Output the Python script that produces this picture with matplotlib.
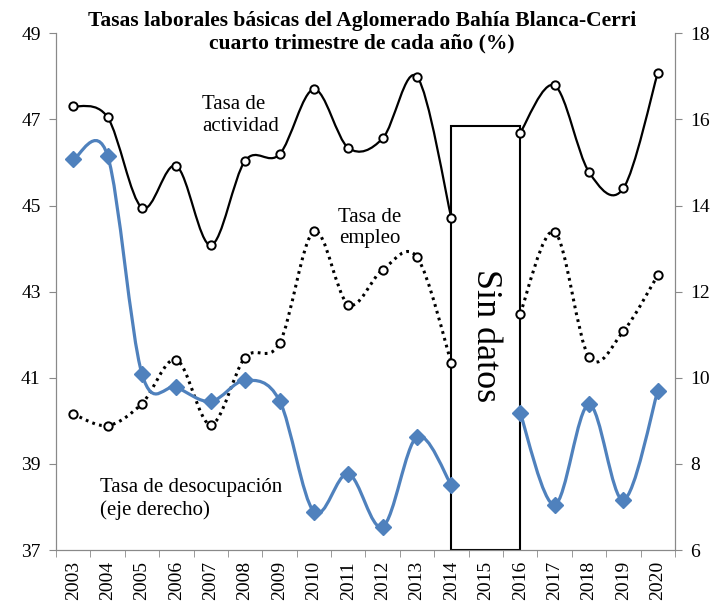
import numpy as np
import matplotlib
matplotlib.use('Agg')
import matplotlib.pyplot as plt
from matplotlib.path import Path
from matplotlib.patches import PathPatch, Rectangle

plt.rcParams['font.family'] = ['Liberation Serif', 'DejaVu Serif']

years = ['2003', '2004', '2005', '2006', '2007', '2008', '2009', '2010', '2011',
         '2012', '2013', '2014', '2015', '2016', '2017', '2018', '2019', '2020']

# 2015 sin datos
actividad = [47.31, 47.05, 44.95, 45.92, 44.08, 46.04, 46.19, 47.70, 46.34,
             46.56, 47.99, 44.70, np.nan, 46.69, 47.79, 45.78, 45.40, 48.08]
empleo = [40.16, 39.89, 40.40, 41.42, 39.91, 41.47, 41.80, 44.40, 42.70,
          43.51, 43.80, 41.34, np.nan, 42.49, 44.39, 41.48, 42.08, 43.38]
desocupacion = [15.07, 15.16, 10.09, 9.78, 9.45, 9.94, 9.47, 6.89, 7.77,
                6.54, 8.63, 7.50, np.nan, 9.18, 7.05, 9.38, 7.16, 9.69]

BLUE = '#4F81BD'
GRAY = '#898989'


def smooth_patch(xs, ys, **kw):
    # curva suavizada tipo Excel (bezier por tramos)
    verts, codes = [], []
    segs = []
    cur = []
    for x, y in zip(xs, ys):
        if np.isnan(y):
            if cur:
                segs.append(cur)
            cur = []
        else:
            cur.append((x, y))
    if cur:
        segs.append(cur)
    for seg in segs:
        p = np.array(seg, dtype=float)
        n = len(p)
        verts.append(p[0]); codes.append(Path.MOVETO)
        for i in range(n - 1):
            p0 = p[i - 1] if i > 0 else p[i]
            p1 = p[i]
            p2 = p[i + 1]
            p3 = p[i + 2] if i + 2 < n else p[i + 1]
            c1 = p1 + (p2 - p0) / 6
            c2 = p2 - (p3 - p1) / 6
            verts += [c1, c2, p2]
            codes += [Path.CURVE4] * 3
    return PathPatch(Path(verts, codes), fill=False, **kw)


x = np.arange(len(years))

fig = plt.figure(figsize=(7.18, 6.05), dpi=100)
ax = fig.add_axes([0.078, 0.0909, 0.862, 0.854])
ax2 = ax.twinx()

ax.add_patch(smooth_patch(x, actividad, edgecolor='black', linewidth=1.6, zorder=3))
ax.plot(x, actividad, 'o', ls='none', ms=6, mfc='white', mec='black', mew=1.4, zorder=4)

ax.add_patch(smooth_patch(x, empleo, edgecolor='black', linewidth=2.2,
                          linestyle=(0, (0.9, 1.4)), zorder=3))
ax.plot(x, empleo, 'o', ls='none', ms=6, mfc='white', mec='black', mew=1.4, zorder=4)

ax2.add_patch(smooth_patch(x, desocupacion, edgecolor=BLUE, linewidth=2.3, zorder=3))
ax2.plot(x, desocupacion, 'D', ls='none', ms=8.5, color=BLUE, zorder=4)

# recuadro sin datos
ax.add_patch(Rectangle((11, 37), 2, 46.85 - 37, fill=False, edgecolor='black',
                       linewidth=1.5, zorder=2))
ax.text(12, 41.97, 'Sin datos', rotation=-90, ha='center', va='center', fontsize=26)

ax.set_xlim(-0.5, 17.5)
ax.set_ylim(37, 49)
ax.set_yticks([37, 39, 41, 43, 45, 47, 49])
ax2.set_ylim(6, 18)
ax2.set_yticks([6, 8, 10, 12, 14, 16, 18])

ax.set_xticks(x)
ax.set_xticklabels(years, rotation=90, fontsize=14)
ax.set_xticks(np.arange(-0.5, 18, 1), minor=True)
ax.tick_params(axis='x', which='major', length=0, pad=8)
ax.tick_params(axis='x', which='minor', length=5, color=GRAY, direction='out')
ax.tick_params(axis='y', length=5, color=GRAY, labelsize=14, pad=6)
ax2.tick_params(axis='y', length=5, color=GRAY, labelsize=14, pad=6)

for a in (ax, ax2):
    a.spines['top'].set_visible(False)
    for s in ('left', 'right', 'bottom'):
        a.spines[s].set_color(GRAY)

ax.text(3.74, 47.1, 'Tasa de\nactividad', ha='left', va='center', fontsize=15,
        linespacing=1.2)
ax.text(8.63, 44.48, 'Tasa de\nempleo', ha='center', va='center', fontsize=15,
        linespacing=1.15)
ax.text(0.78, 38.18, 'Tasa de desocupación\n(eje derecho)', ha='left', va='center',
        fontsize=15, linespacing=1.2)

fig.text(0.504, 0.982, 'Tasas laborales básicas del Aglomerado Bahía Blanca-Cerri\n'
         'cuarto trimestre de cada año (%)', ha='center', va='top', fontsize=15.5,
         fontweight='bold', linespacing=1.2)

plt.savefig('out.png', dpi=100)
